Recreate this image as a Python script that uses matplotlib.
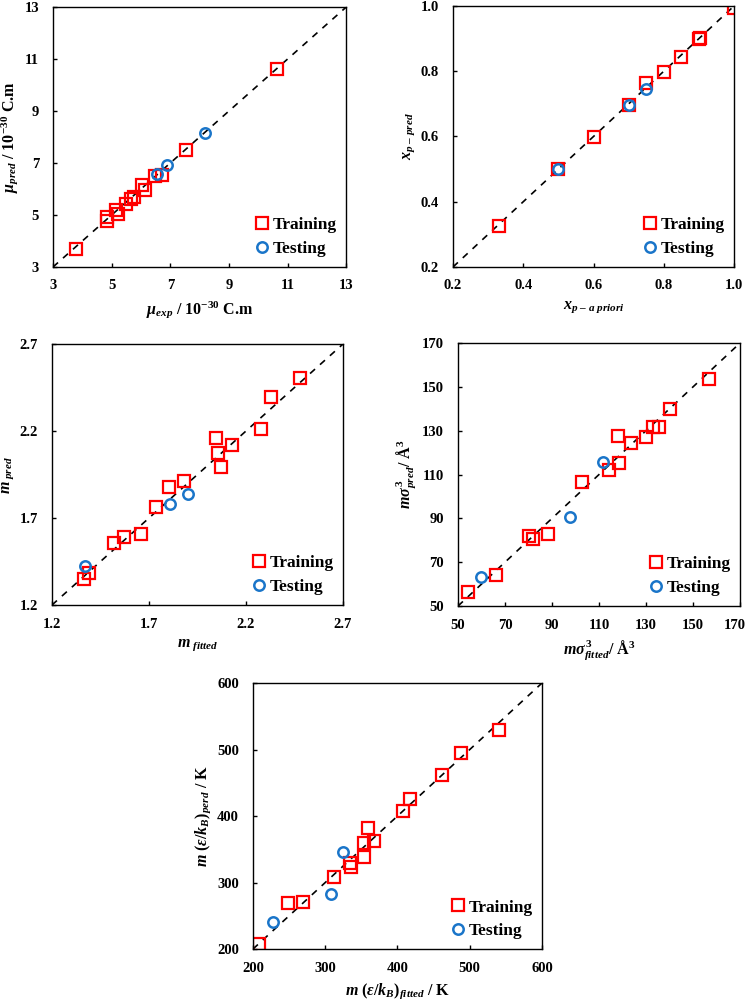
import numpy as np
import matplotlib
matplotlib.use('Agg')
import matplotlib.pyplot as plt
from matplotlib.transforms import ScaledTranslation

# plot setup
plt.rc('font', **{'family': 'serif', 'serif': ['Liberation Serif'], 'weight': 'bold'})
plt.rc('mathtext', **{'fontset': 'custom', 'rm': 'Liberation Serif:bold',
                      'it': 'Liberation Serif:italic:bold', 'bf': 'Liberation Serif:bold'})
plt.rc('xtick', labelsize=10.5, direction='in')
plt.rc('ytick', labelsize=10.5, direction='in')
plt.rcParams['axes.linewidth'] = 1
plt.rcParams['xtick.major.size'] = 3
plt.rcParams['ytick.major.size'] = 3
plt.rcParams['xtick.major.width'] = 1
plt.rcParams['ytick.major.width'] = 1
plt.rcParams['xtick.major.pad'] = 9
plt.rcParams['ytick.major.pad'] = 10

RED = '#ff0000'
BLUE = '#1a75c9'

# dipole moment
mu_train_exp = [3.8, 4.85, 4.85, 5.15, 5.2, 5.5, 5.65, 5.75, 6.02, 6.15, 6.47, 6.7, 7.55, 10.65]
mu_train_pred = [3.7, 4.92, 4.75, 5.2, 5.05, 5.44, 5.6, 5.7, 6.14, 5.97, 6.5, 6.52, 7.5, 10.63]
mu_test_exp = [6.56, 6.87, 8.18]
mu_test_pred = [6.59, 6.91, 8.17]

# polar fraction
xp_train_apr = [0.33, 0.50, 0.60, 0.70, 0.75, 0.80, 0.85, 0.90, 0.903, 1.0]
xp_train_pred = [0.325, 0.50, 0.597, 0.697, 0.763, 0.797, 0.845, 0.898, 0.903, 0.995]
xp_test_apr = [0.50, 0.70, 0.75]
xp_test_pred = [0.50, 0.695, 0.745]

# segment number
m_train_fit = [1.366, 1.389, 1.522, 1.572, 1.659, 1.735, 1.805, 1.882, 2.043, 2.054, 2.071, 2.127, 2.28, 2.331, 2.48]
m_train_pred = [1.348, 1.386, 1.554, 1.589, 1.608, 1.765, 1.876, 1.912, 2.158, 2.072, 1.995, 2.119, 2.21, 2.394, 2.503]
m_test_fit = [1.371, 1.808, 1.903]
m_test_pred = [1.424, 1.778, 1.838]

# m sigma^3
ms_train_fit = [54.2, 66.1, 80.0, 81.8, 88.2, 102.9, 114.2, 118.1, 118.5, 123.5, 130.0, 133.0, 135.5, 140.0, 157.0]
ms_train_pred = [56.2, 64.2, 82.0, 80.6, 82.7, 106.5, 112.1, 127.5, 115.2, 124.5, 127.0, 131.7, 131.7, 139.8, 153.5]
ms_test_fit = [59.9, 97.6, 111.5]
ms_test_pred = [63.4, 90.8, 115.9]

# m eps/kB
me_train_fit = [208.8, 248, 269.2, 312.6, 334.7, 335.6, 353.2, 354, 359, 367, 407.6, 417.8, 461.6, 488.4, 540]
me_train_pred = [208, 270, 270.5, 309, 330, 323, 338, 360, 381.5, 363, 408, 426, 462.5, 495.5, 529]
me_test_fit = [227.7, 308, 324.6]
me_test_pred = [240, 283, 345.5]

panels = [
    dict(rect=[0.0707, 0.7333, 0.391, 0.2597], lim=(3, 13), ticks=[3, 5, 7, 9, 11, 13], fmt='{:g}',
         tr=(mu_train_exp, mu_train_pred), te=(mu_test_exp, mu_test_pred),
         xlabel=r'$\mu_{exp}$ / 10$^{-30}$ C.m', ylabel=r'$\mu_{pred}$ / 10$^{-30}$ C.m'),
    dict(rect=[0.604, 0.7333, 0.3747, 0.2607], lim=(0.2, 1.0), ticks=[0.2, 0.4, 0.6, 0.8, 1.0], fmt='{:.1f}',
         tr=(xp_train_apr, xp_train_pred), te=(xp_test_apr, xp_test_pred),
         xlabel=r'$x_{p\ –\ a\ priori}$', ylabel=r'$x_{p\ –\ pred}$'),
    dict(rect=[0.0693, 0.3956, 0.388, 0.2607], lim=(1.2, 2.7), ticks=[1.2, 1.7, 2.2, 2.7], fmt='{:.1f}',
         tr=(m_train_fit, m_train_pred), te=(m_test_fit, m_test_pred),
         xlabel=r'$m_{\ fitted}$', ylabel=r'$m_{\ pred}$'),
    dict(rect=[0.6107, 0.3946, 0.3760, 0.2627], lim=(50, 170), ticks=[50, 70, 90, 110, 130, 150, 170], fmt='{:g}',
         tr=(ms_train_fit, ms_train_pred), te=(ms_test_fit, ms_test_pred),
         xlabel=r'$m\sigma^3_{fitted}$/ Å$^3$', ylabel=r'$m\sigma^3_{pred}$/ Å$^3$'),
    dict(rect=[0.3373, 0.0519, 0.3853, 0.2657], lim=(200, 600), ticks=[200, 300, 400, 500, 600], fmt='{:g}',
         tr=(me_train_fit, me_train_pred), te=(me_test_fit, me_test_pred),
         xlabel=r'$m\ (\varepsilon/k_B)_{fitted}$ / K', ylabel=r'$m\ (\varepsilon/k_B)_{perd}$ / K'),
]

fig = plt.figure(figsize=(7.5, 10.01), dpi=100)

for i, p in enumerate(panels):
    ax = fig.add_axes(p['rect'])
    lo, hi = p['lim']
    ax.plot([lo, hi], [lo, hi], ls=(0, (4, 4)), color='black', lw=1.2, zorder=1)
    ax.plot(*p['tr'], ls='none', marker='s', ms=8, mfc='none', mec=RED, mew=1.6, label='Training', zorder=2)
    ax.plot(*p['te'], ls='none', marker='o', ms=7.5, mfc='none', mec=BLUE, mew=1.8, label='Testing', zorder=3)
    ax.set_xlim(lo, hi)
    ax.set_ylim(lo, hi)
    ax.set_xticks(p['ticks'])
    ax.set_yticks(p['ticks'])
    ax.set_xticklabels([p['fmt'].format(t) for t in p['ticks']])
    ax.set_yticklabels([p['fmt'].format(t) for t in p['ticks']])
    ax.set_xlabel(p['xlabel'], fontsize=11.5, fontweight='bold', labelpad=5)
    ax.set_ylabel(p['ylabel'], fontsize=11.5, fontweight='bold', labelpad=3)
    ax.legend(loc='lower right', frameon=False, prop={'size': 12.5, 'weight': 'bold'},
              handletextpad=0.0, handlelength=1.2, labelspacing=0.45, borderaxespad=0.15)
    if i == 3:
        # last x label sits against the figure edge
        lab = ax.get_xticklabels()[-1]
        lab.set_transform(lab.get_transform() + ScaledTranslation(-0.05, 0, fig.dpi_scale_trans))

plt.savefig('out.png', dpi=100)
